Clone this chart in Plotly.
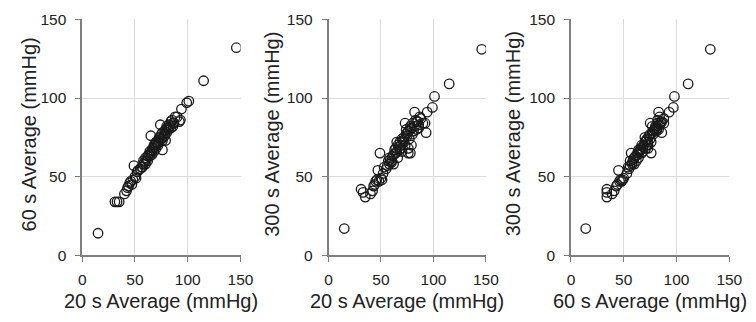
import plotly.graph_objects as go

# Per-subject averages (mmHg)
avg20 = [15, 146, 115, 101, 99, 94, 92, 93, 88, 86, 84, 73, 74, 49, 47, 78, 76, 65,
         31, 33, 35, 40, 42, 44, 45, 46, 48, 50, 51, 52, 55, 56, 57, 58, 58, 59, 60,
         61, 62, 62, 63, 64, 64, 65, 66, 66, 67, 68, 68, 69, 70, 70, 71, 72, 72, 73,
         74, 75, 75, 76, 77, 78, 78, 79, 80, 80, 81, 82, 82, 83, 84, 85, 86, 87, 90,
         79, 76, 69, 60, 53, 43]
avg60 = [14, 132, 111, 98, 97, 93, 85, 86, 88, 84, 85, 75, 83, 57, 45, 76, 67, 76,
         34, 34, 34, 39, 41, 44, 46, 47, 48, 50, 49, 53, 55, 56, 56, 58, 60, 59, 62,
         61, 63, 60, 64, 63, 66, 65, 64, 67, 68, 66, 70, 69, 72, 68, 71, 73, 70, 72,
         75, 74, 77, 78, 75, 79, 77, 80, 78, 82, 81, 80, 83, 82, 81, 86, 82, 84, 88,
         73, 73, 71, 58, 54, 43]
avg300 = [17, 131, 109, 101, 94, 91, 84, 78, 87, 83, 85, 84, 80, 65, 54, 65, 65, 72,
          42, 40, 37, 39, 41, 45, 47, 48, 47, 49, 48, 52, 55, 57, 60, 58, 62, 61, 60,
          63, 64, 58, 67, 65, 68, 66, 62, 70, 69, 67, 72, 70, 74, 66, 73, 72, 75, 70,
          77, 76, 78, 79, 74, 80, 82, 81, 77, 84, 79, 82, 91, 86, 80, 85, 81, 88, 84,
          70, 68, 68, 59, 56, 44]

panels = [
    (avg20, avg60, "20 s Average (mmHg)", "60 s Average (mmHg)"),
    (avg20, avg300, "20 s Average (mmHg)", "300 s Average (mmHg)"),
    (avg60, avg300, "60 s Average (mmHg)", "300 s Average (mmHg)"),
]
tick_vals = [0, 50, 100, 150]

W, H = 756, 322
xdom_px = [(80, 242), (332, 493), (580, 742)]
ytitle_px = [26, 274, 521]
y_top, y_bot = 11, 260

fig = go.Figure()
font = "Arial, Liberation Sans, sans-serif"
annotations = []
for i, (xs, ys, xt, yt) in enumerate(panels):
    n = "" if i == 0 else str(i + 1)
    fig.add_trace(go.Scatter(
        x=xs, y=ys, mode="markers", xaxis="x" + n, yaxis="y" + n,
        marker=dict(symbol="circle-open", size=9.5, color="#1a1a1a",
                    line=dict(width=1.3, color="#1a1a1a")),
        showlegend=False, hoverinfo="x+y"))
    x0, x1 = xdom_px[i]
    axcommon = dict(range=[0, 150], tickvals=tick_vals, showgrid=True,
                    gridcolor="#dcdcdc", gridwidth=1, zeroline=False,
                    showline=True, linecolor="#7f7f7f", linewidth=1.5,
                    ticks="outside", ticklen=5, tickcolor="#7f7f7f",
                    tickfont=dict(family=font, size=15.5, color="#222"),
                    fixedrange=True)
    fig.layout["xaxis" + n] = dict(axcommon, domain=[x0 / W, x1 / W],
                                   anchor="y" + n, ticklabelstandoff=4)
    fig.layout["yaxis" + n] = dict(axcommon,
                                   domain=[(H - y_bot) / H, (H - y_top) / H],
                                   anchor="x" + n, ticklabelstandoff=6)
    annotations.append(dict(text=xt, xref="paper", yref="paper",
                            x=(x0 + x1) / 2 / W, y=(H - 308) / H,
                            xanchor="center", yanchor="middle", showarrow=False,
                            font=dict(family=font, size=20, color="#222")))
    annotations.append(dict(text=yt, xref="paper", yref="paper",
                            x=ytitle_px[i] / W, y=(H - 132) / H, textangle=-90,
                            xanchor="center", yanchor="middle", showarrow=False,
                            font=dict(family=font, size=20, color="#222")))

fig.update_layout(width=W, height=H, margin=dict(l=0, r=0, t=0, b=0),
                  paper_bgcolor="white", plot_bgcolor="white",
                  annotations=annotations)
fig.write_html("out.html", config={"displayModeBar": False},
               post_script="document.body.style.margin='0';"
                           "document.body.style.overflow='hidden';")
